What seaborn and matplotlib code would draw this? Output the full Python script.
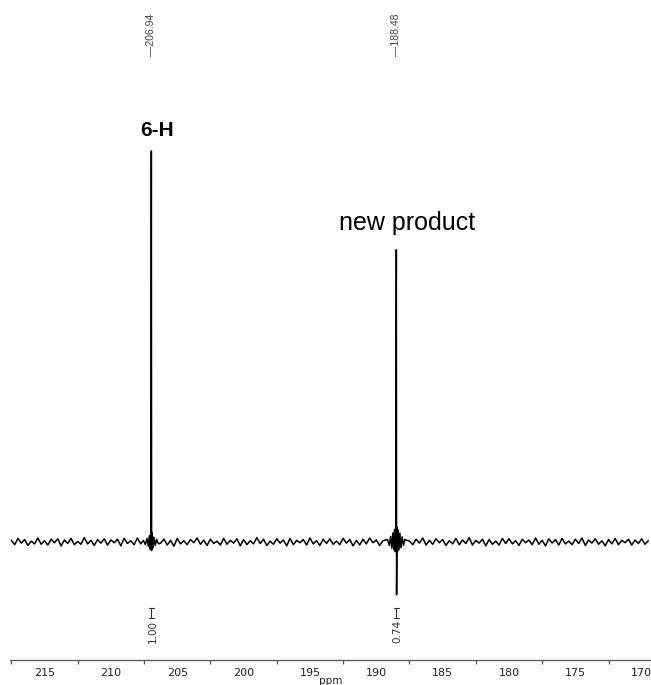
import numpy as np
import pandas as pd
import matplotlib
matplotlib.use("Agg")
import matplotlib.pyplot as plt
import seaborn as sns
from matplotlib.ticker import MultipleLocator

# ---------------- data ----------------
# baseline noise, sampled every 0.25 ppm from 217.5 to 169.5 (relative intensity)
noise_ppm = np.arange(217.5, 169.4, -0.25)
noise_int = [0.4, -0.7, 0.9, -0.3, 0.6, -0.9, 0.2, -0.5, 1.0, -0.6,
             0.3, -0.8, 0.7, -0.2, 0.8, -1.0, 0.5, -0.4, 0.9, -0.7,
             0.1, -0.6, 1.1, -0.5, 0.4, -0.9, 0.6, -0.3, 0.8, -0.8,
             0.5, -0.2, 0.7, -1.0, 0.9, -0.4, 0.3, -0.7, 1.0, -0.5,
             0.6, -0.9, 0.2, -0.6, 0.8, -0.3, 0.7, -0.8, 0.4, -1.1,
             0.9, -0.5, 0.3, -0.7, 0.6, -0.2, 1.0, -0.6, 0.5, -0.9,
             0.7, -0.4, 0.2, -0.8, 0.9, -0.6, 0.4, -0.3, 0.8, -1.0,
             0.6, -0.7, 0.3, -0.5, 1.1, -0.4, 0.7, -0.9, 0.2, -0.6,
             0.8, -0.3, 0.5, -1.0, 0.9, -0.7, 0.4, -0.2, 0.6, -0.8,
             1.0, -0.5, 0.3, -0.9, 0.7, -0.4, 0.8, -0.6, 0.2, -0.7,
             0.9, -0.3, 0.6, -1.0, 0.4, -0.8, 0.7, -0.5, 1.0, -0.2,
             0.5, -0.9, 0.3, -0.6, 0.8, -0.4, 0.6, -1.1, 0.9, -0.5,
             0.2, -0.7, 0.7, -0.3, 1.0, -0.8, 0.4, -0.6, 0.8, -0.2,
             0.6, -0.9, 0.3, -0.5, 0.9, -0.7, 0.5, -0.4, 1.1, -0.8,
             0.4, -0.3, 0.7, -1.0, 0.6, -0.6, 0.2, -0.8, 0.9, -0.4,
             0.8, -0.5, 0.3, -0.9, 0.7, -0.2, 0.5, -0.7, 1.0, -0.6,
             0.4, -1.0, 0.8, -0.3, 0.6, -0.8, 0.9, -0.5, 0.2, -0.7,
             0.7, -0.4, 1.0, -0.9, 0.5, -0.3, 0.8, -0.6, 0.3, -1.0,
             0.6, -0.5, 0.9, -0.7, 0.4, -0.2, 0.7, -0.8, 0.5, -0.4,
             0.8, -0.6, 0.3]

# peak 1 (6-H, 206.94 ppm) with ringing
peak1_ppm = [207.55, 207.40, 207.28, 207.18, 207.10, 207.03, 206.98, 206.95,
             206.93, 206.89, 206.84, 206.76, 206.66, 206.55, 206.42]
peak1_int = [0.4, -0.7, 0.9, -1.1, 1.6, -1.9, 2.8, 100.0,
             -2.2, 2.4, -1.5, 1.2, -0.9, 0.7, -0.5]

# peak 2 (new product, 188.48 ppm) with ringing
peak2_ppm = [189.15, 189.02, 188.92, 188.83, 188.75, 188.68, 188.62, 188.56,
             188.52, 188.49, 188.47, 188.44, 188.40, 188.35, 188.29, 188.22,
             188.14, 188.05, 187.95, 187.85]
peak2_int = [0.6, -0.9, 1.4, -1.6, 2.3, -2.0, 3.2, -2.5,
             4.0, 74.7, -13.5, 3.8, -2.4, 3.0, -2.0, 2.2,
             -1.5, 1.3, -0.9, 0.6]

peak_shifts = [206.94, 188.48]
peak_shift_labels = ["\u2014206.94", "\u2014188.48"]
integrals = ["1.00", "0.74"]
compound_labels = ["6-H", "new product"]
compound_label_y = [103.8, 79.8]
tick_values = [215, 210, 205, 200, 195, 190, 185, 180, 175, 170]

# ---------------- assemble spectrum ----------------
base = pd.DataFrame({"ppm": noise_ppm, "intensity": noise_int})
base = base[~(((base.ppm > 206.3) & (base.ppm < 207.7)) |
              ((base.ppm > 187.7) & (base.ppm < 189.3)))]
spec = pd.concat([base,
                  pd.DataFrame({"ppm": peak1_ppm, "intensity": peak1_int}),
                  pd.DataFrame({"ppm": peak2_ppm, "intensity": peak2_int})])
spec = spec.sort_values("ppm", ascending=False).reset_index(drop=True)

# ---------------- plot ----------------
sns.set_theme(style="white")
plt.rcParams["font.family"] = ["DejaVu Sans"]

fig = plt.figure(figsize=(6.51, 6.85), dpi=100)
ax = fig.add_axes([10 / 651, 25 / 685, 641 / 651, 660 / 685])

sns.lineplot(data=spec, x="ppm", y="intensity", sort=False, estimator=None,
             color="black", lw=1.1, ax=ax)

ax.set_xlim(217.6, 169.3)
ax.set_ylim(-30.2, 138.6)

for s in ["left", "top", "right"]:
    ax.spines[s].set_visible(False)
ax.spines["bottom"].set_color("#555555")
ax.spines["bottom"].set_linewidth(0.9)
ax.set_yticks([])
ax.set_xticks(tick_values)
ax.set_xticklabels([str(t) for t in tick_values])
ax.xaxis.set_minor_locator(MultipleLocator(2.5))
ax.tick_params(axis="x", which="major", direction="out", length=4, width=0.9,
               color="#555555", labelsize=8, labelcolor="#222222", pad=1.5)
ax.tick_params(axis="x", which="minor", direction="out", length=3, width=0.9,
               color="#555555", bottom=True)
ax.set_xlabel("ppm", fontsize=7.5, color="#222222", labelpad=-1)
ax.set_ylabel("")

# chemical shift labels at the top
for s, lab in zip(peak_shifts, peak_shift_labels):
    ax.text(s, 124.3, lab, rotation=90, ha="center", va="bottom",
            fontsize=7.5, color="#444444", family="Liberation Sans")

# integral labels below the baseline
for s, lab in zip(peak_shifts, integrals):
    ax.plot([s, s], [-16.9, -19.5], color="#333333", lw=0.8)
    ax.plot([s - 0.17, s + 0.17], [-16.9, -16.9], color="#333333", lw=0.8)
    ax.plot([s - 0.17, s + 0.17], [-19.5, -19.5], color="#333333", lw=0.8)
    ax.text(s - 0.1, -20.0, lab, rotation=90, ha="center", va="top",
            fontsize=7.5, color="#333333")

# compound labels
ax.text(206.5, compound_label_y[0], compound_labels[0], ha="center",
        va="baseline", fontsize=15, fontweight="bold", color="black",
        family="Liberation Sans")
ax.text(187.7, compound_label_y[1], compound_labels[1], ha="center",
        va="baseline", fontsize=18, color="black", family="Liberation Sans")

fig.savefig("out.png", dpi=100)
